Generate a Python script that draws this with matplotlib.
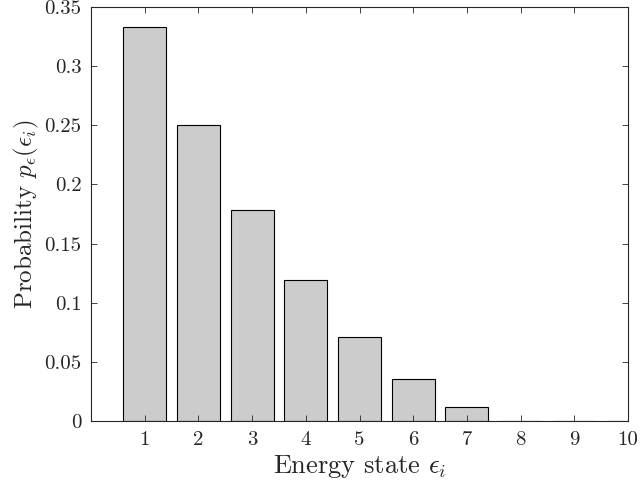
import matplotlib
matplotlib.use('Agg')
import matplotlib.pyplot as plt
import numpy as np

# Energy states and their probabilities
states = [1, 2, 3, 4, 5, 6, 7, 8, 9, 10]
probs = [0.3333, 0.25, 0.1786, 0.1190, 0.0714, 0.0357, 0.0119, 0.0, 0.0, 0.0]
ytick_vals = [0, 0.05, 0.1, 0.15, 0.2, 0.25, 0.3, 0.35]
ytick_labels = ['0', '0.05', '0.1', '0.15', '0.2', '0.25', '0.3', '0.35']

plt.rcParams['font.family'] = ['cmr10', 'DejaVu Serif']
plt.rcParams['mathtext.fontset'] = 'cm'
plt.rcParams['axes.formatter.use_mathtext'] = True

fig = plt.figure(figsize=(6.42, 4.88), dpi=100)
ax = fig.add_axes([91 / 642, 1 - 421 / 488, 537 / 642, 414 / 488])

ax.bar(states, probs, width=0.8, color='#cccccc', edgecolor='black', linewidth=0.8)

ax.set_xlim(0, 10)
ax.set_ylim(0, 0.35)
ax.set_xticks(states)
ax.set_xticklabels([str(s) for s in states])
ax.set_yticks(ytick_vals)
ax.set_yticklabels(ytick_labels)
ax.tick_params(direction='in', top=True, right=True, labelsize=15, length=4,
               width=0.6, colors='#262626', pad=7)
for s in ax.spines.values():
    s.set_linewidth(0.8)
    s.set_color('#262626')

ax.set_xlabel(r'Energy state $\epsilon_i$', fontsize=19, color='#262626', labelpad=3)
ax.set_ylabel(r'Probability $p_\epsilon(\epsilon_i)$', fontsize=18, color='#262626', labelpad=2)

fig.savefig('out.png', dpi=100)
